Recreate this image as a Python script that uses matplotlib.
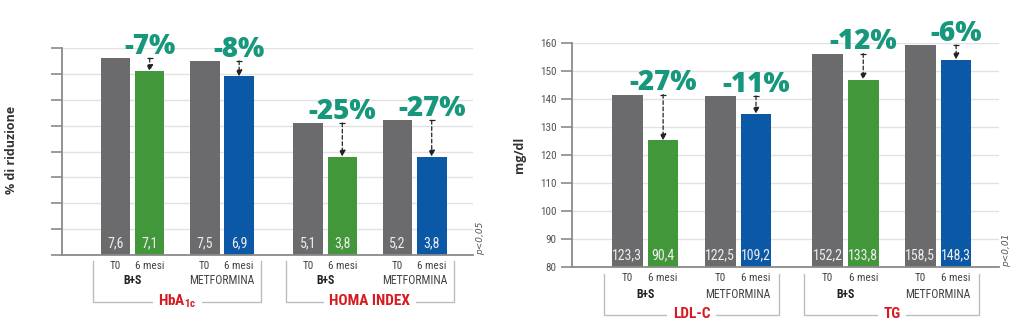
import matplotlib
matplotlib.use("Agg")
import matplotlib.pyplot as plt
import matplotlib.transforms as mtransforms
from matplotlib import font_manager

# --- data ---
arms = ["B+S", "METFORMINA"]
times = ["T0", "6 mesi"]

left_titles = ["HbA$_\\mathregular{1c}$", "HOMA INDEX"]
hba1c_t0 = [7.6, 7.5]
hba1c_6m = [7.1, 6.9]
hba1c_pct = ["-7%", "-8%"]
homa_t0 = [5.1, 5.2]
homa_6m = [3.8, 3.8]
homa_pct = ["-25%", "-27%"]

right_titles = ["LDL-C", "TG"]
# bar heights as drawn on the mg/dl axis (labels show the reported values)
ldl_t0 = [141.6, 141.1]
ldl_6m = [125.2, 134.7]
ldl_t0_lab = ["123,3", "122,5"]
ldl_6m_lab = ["90,4", "109,2"]
ldl_pct = ["-27%", "-11%"]
tg_t0 = [156.2, 159.3]
tg_6m = [146.9, 154.1]
tg_t0_lab = ["152,2", "158,5"]
tg_6m_lab = ["133,8", "148,3"]
tg_pct = ["-12%", "-6%"]

GRAY = "#6b6b6d"
GREEN = "#43973b"
BLUE = "#0b58a6"
TEAL = "#17977b"
RED = "#d71920"
BOLDF = ["Open Sans", "DejaVu Sans"]

# pick a narrow font if one is installed
fonts = {(f.name, f.stretch) for f in font_manager.fontManager.ttflist}
NARROW = dict(family="Liberation Sans", stretch="normal")
for name, st in [("Liberation Sans Narrow", "condensed"),
                 ("Roboto Condensed", "condensed"),
                 ("Noto Sans", "condensed"),
                 ("Open Sans", "condensed"),
                 ("DejaVu Sans", "condensed")]:
    if (name, st) in fonts or (name, "normal") in fonts and name.endswith(("Narrow", "Condensed")):
        NARROW = dict(family=name, stretch=st)
        break

fig = plt.figure(figsize=(10.24, 3.32), dpi=100)


def fmt(v):
    return ("%.1f" % v).replace(".", ",")


def below(ax, px):
    # x in data, y = bottom of axes minus px pixels
    return mtransforms.blended_transform_factory(ax.transData, ax.transAxes) + \
        mtransforms.ScaledTranslation(0, -px / 100.0, fig.dpi_scale_trans)


def panel(ax, groups, titles, ylim, step, off):
    pos = [1.55, 2.55, 4.15, 5.15, 7.15, 8.15, 9.75, 10.75]
    w = 0.86
    ax.set_xlim(0, 11.95)
    ax.set_ylim(*ylim)
    ax.set_yticks(range(ylim[0], ylim[1] + 1, step))
    ax.grid(axis="y", color="#e2e2e2", lw=1)
    ax.set_axisbelow(True)
    for s in ["top", "right"]:
        ax.spines[s].set_visible(False)
    for s in ["left", "bottom"]:
        ax.spines[s].set_color("#8a8a8a")
        ax.spines[s].set_linewidth(1.3)
    ax.tick_params(axis="y", length=8, width=1.2, color="#8a8a8a",
                   labelsize=8, labelcolor="#555555", pad=3)
    for lab in ax.get_yticklabels():
        lab.set_family(NARROW["family"])
        lab.set_stretch(NARROW["stretch"])
    ax.set_xticks(pos, labels=times * 4)
    ax.tick_params(axis="x", length=0, pad=4, labelsize=8, labelcolor="#444444")
    for lab in ax.get_xticklabels():
        lab.set_family(NARROW["family"])
        lab.set_stretch(NARROW["stretch"])

    i = 0
    for g, (t0, m6, t0_lab, m6_lab, pct) in enumerate(groups):
        for a in range(2):
            x0, x1 = pos[i], pos[i + 1]
            c = GREEN if a == 0 else BLUE
            ax.bar(x0, t0[a], width=w, color=GRAY, bottom=0)
            ax.bar(x1, m6[a], width=w, color=c, bottom=0)
            for x, lab in [(x0, t0_lab[a]), (x1, m6_lab[a])]:
                ax.text(x, 0, lab, transform=below(ax, -12), ha="center",
                        va="center", fontsize=10, color="#eeeeee", **NARROW)
            # arrow from T0 level down to 6 mesi bar
            ax.annotate("", xy=(x1, m6[a]), xytext=(x1, t0[a]),
                        arrowprops=dict(arrowstyle="-|>", color="#222222",
                                        lw=0.9, linestyle=(0, (3, 2)),
                                        mutation_scale=9, shrinkA=0, shrinkB=0))
            ax.plot([x1], [t0[a]], marker="_", ms=5, color="#222222", mew=0.9)
            ax.annotate(pct[a], xy=(x1, t0[a]), xytext=(0, 3),
                        textcoords="offset points", ha="center", va="baseline",
                        fontsize=20, fontweight=800, color=TEAL, family=BOLDF)
            ax.text((x0 + x1) / 2, 0, arms[a], transform=below(ax, off + 16),
                    ha="center", va="center", fontsize=8.5,
                    fontweight="bold" if a == 0 else "normal",
                    color="#222222" if a == 0 else "#444444", **NARROW)
            i += 2
        # bracket
        xa = pos[i - 4] - 0.65
        xb = pos[i - 1] + 0.65
        tr = below(ax, 0)
        top = -(off - 4) / (ax.bbox.height)
        bot = -(off + 37) / (ax.bbox.height)
        ax.plot([xa, xa, xb, xb], [top, bot, bot, top], color="#bdbdbd",
                lw=1, transform=tr, clip_on=False)
        ax.text((xa + xb) / 2, 0, titles[g], transform=below(ax, off + 36),
                ha="center", va="center", fontsize=11, fontweight="bold",
                color=RED, bbox=dict(fc="white", ec="none", pad=4), **NARROW)


axL = fig.add_axes([62 / 1024, 77 / 332, 411 / 1024, 207 / 332])
axR = fig.add_axes([572 / 1024, 65 / 332, 427 / 1024, 224 / 332])
fig.canvas.draw()

left_groups = [
    (hba1c_t0, hba1c_6m, [fmt(v) for v in hba1c_t0], [fmt(v) for v in hba1c_6m], hba1c_pct),
    (homa_t0, homa_6m, [fmt(v) for v in homa_t0], [fmt(v) for v in homa_6m], homa_pct),
]
right_groups = [
    (ldl_t0, ldl_6m, ldl_t0_lab, ldl_6m_lab, ldl_pct),
    (tg_t0, tg_6m, tg_t0_lab, tg_6m_lab, tg_pct),
]
panel(axL, left_groups, left_titles, (0, 8), 1, 10)
axL.set_yticklabels([])
panel(axR, right_groups, right_titles, (80, 160), 10, 11)

axL.set_ylabel("% di riduzione", fontsize=9, fontweight="bold", color="#333333",
               family=BOLDF)
axL.yaxis.set_label_coords(-0.107, 0.507)
axR.set_ylabel("mg/dl", fontsize=9, fontweight="bold", color="#333333",
               family=BOLDF)
axR.yaxis.set_label_coords(-0.108, 0.5)

axL.text(1.018, 0, "p<0,05", transform=axL.transAxes, rotation=90,
         ha="center", va="bottom", fontsize=6.5, style="italic", color="#555555")
axR.text(1.018, 0, "p<0,01", transform=axR.transAxes, rotation=90,
         ha="center", va="bottom", fontsize=6.5, style="italic", color="#555555")

fig.savefig("out.png", dpi=100, facecolor="white")
